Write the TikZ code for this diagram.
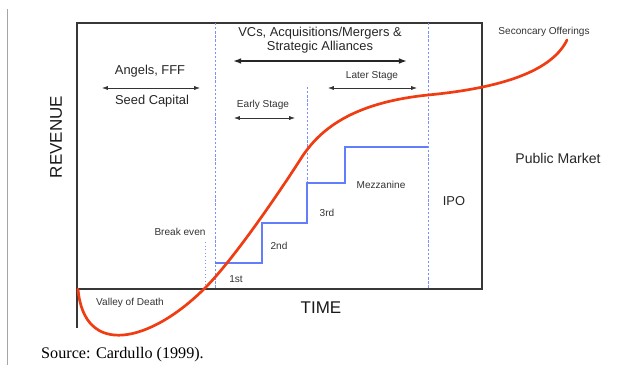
\documentclass[tikz,border=0pt]{standalone}
\usepackage{fontspec}
\setmainfont{Liberation Sans}
\newfontfamily\srcfont{Liberation Serif}
\usetikzlibrary{arrows.meta}
\definecolor{curvecol}{RGB}{240,60,18}
\definecolor{stepcol}{RGB}{100,125,250}
\definecolor{dashcol}{RGB}{125,145,250}
\definecolor{framecol}{RGB}{55,55,55}
\tikzset{>=latex}

\begin{document}
\begin{tikzpicture}[x=0.03cm,y=-0.03cm,
  big/.style={inner sep=0pt, font=\fontsize{11}{13}\selectfont, text=black!85},
  small/.style={inner sep=0pt, font=\fontsize{8.6}{10}\selectfont, text=black!80},
  axislbl/.style={inner sep=0pt, font=\fontsize{14.5}{16}\selectfont, text=black!90},
  span/.style={{Latex[length=5pt,width=3.5pt]}-{Latex[length=5pt,width=3.5pt]}, line width=0.6pt, black!80},
  vline/.style={dashcol, line width=0.5pt, dash pattern=on 2pt off 1.5pt}]

\useasboundingbox (0,0) rectangle (624,365);

% ---------------- Page margin line ----------------
\draw[black!35, line width=0.6pt] (7,9) -- (7,365);

% ---------------- Frame ----------------
\draw[framecol, line width=1.1pt] (77,328) -- (77,23) -- (482,23) -- (482,289) -- (77,289);

% ---------------- Stage separators ----------------
\foreach \x in {215,428}{
  \draw[vline] (\x,23) -- (\x,289);
}
\draw[vline] (307,87) -- (307,183);
\draw[dashcol, line width=0.6pt, dash pattern=on 1pt off 2pt] (205,242) -- (205,288);

% ---------------- Funding steps ----------------
\draw[stepcol, line width=0.9pt]
  (215,263) -- (262,263) -- (262,223) -- (307,223)
  -- (307,183) -- (345,183) -- (345,147) -- (428,147);

% ---------------- Revenue curve ----------------
\draw[curvecol, line width=2.3pt, line cap=round]
  (78,289) .. controls (84,358) and (150,343) .. (205,288)
  .. controls (235,258) and (282,188) .. (300,160)
  .. controls (318,131) and (350,103) .. (428,95)
  .. controls (490,89) and (550,75) .. (567,40);

% ---------------- Span arrows ----------------
\coordinate (seedL) at (102,88);   \coordinate (seedR) at (200,88);
\coordinate (vcL)   at (233,61);   \coordinate (vcR)   at (407,61);
\coordinate (earlyL) at (234,118); \coordinate (earlyR) at (295,118);
\coordinate (laterL) at (328,88);  \coordinate (laterR) at (417,88);

\draw[span] (seedL) -- (seedR);
\draw[{Latex[length=7pt,width=5pt]}-{Latex[length=7pt,width=5pt]}, line width=1.3pt, black!85] (vcL) -- (vcR);
\draw[span] (earlyL) -- (earlyR);
\draw[span] (laterL) -- (laterR);

% ---------------- Labels ----------------
\node[big] (vcs) at (320,33) {VCs, Acquisitions/Mergers \&};
\node[big] (alliances) at (320,47) {Strategic Alliances};
\node[big] (angels) at (150,71) {Angels, FFF};
\node[big] (seed) at (152,101) {Seed Capital};
\node[small] (early) at (263,105) {Early Stage};
\node[small] (later) at (372,76) {Later Stage};
\node[small] (secondary) at (544,32) {Seconcary Offerings};
\node[big, font=\fontsize{12}{14}\selectfont] (public) at (558,158) {Public Market};
\node[small] (mezz) at (381,185) {Mezzanine};
\node[small] (third) at (327,213) {3rd};
\node[small] (second) at (279,246) {2nd};
\node[small] (first) at (236,279) {1st};
\node[small] (breakeven) at (180,232) {Break even};
\node[small] (valley) at (130,303) {Valley of Death};
\node[big] (ipo) at (454,201) {IPO};
\node[axislbl] (time) at (321,308) {TIME};
\node[axislbl, rotate=90] (revenue) at (56,137) {REVENUE};

% ---------------- Source ----------------
\node[inner sep=0pt, anchor=west, font=\srcfont\fontsize{13.8}{16}\selectfont] (source) at (41,355) {Source: Cardullo (1999).};

\end{tikzpicture}
\end{document}
